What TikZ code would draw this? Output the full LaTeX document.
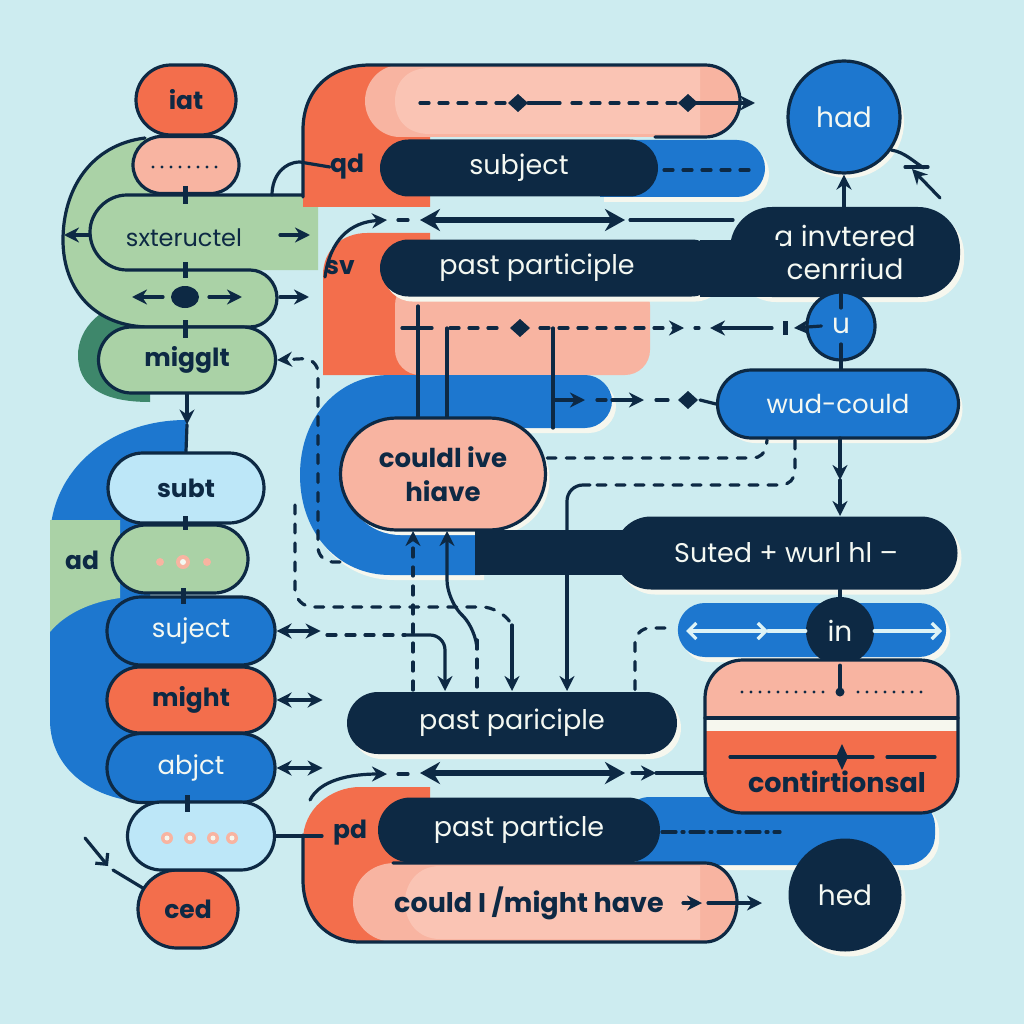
\documentclass[tikz,border=0pt]{standalone}
\usepackage{fontspec}
\setmainfont{Poppins}
\usetikzlibrary{arrows.meta,shapes.misc,shadows,positioning}
\definecolor{skyc}{HTML}{CDECF0}
\definecolor{inkc}{HTML}{0D2944}
\definecolor{coralc}{HTML}{F36E4C}
\definecolor{peachc}{HTML}{F8B4A1}
\definecolor{blushc}{HTML}{FAC4B4}
\definecolor{bluec}{HTML}{1D77CF}
\definecolor{icec}{HTML}{BDE7F8}
\definecolor{sagec}{HTML}{AAD2A6}
\definecolor{mossc}{HTML}{3E876B}
\definecolor{creamc}{HTML}{F6F7EE}
\definecolor{whitec}{HTML}{F4F8F2}
\definecolor{frostc}{HTML}{DDF3F6}
% small diamond on a connector
\newcommand\gem[2]{\fill[inkc] (#1,#2) +(-10,0) -- +(0,-9) -- +(10,0) -- +(0,9) -- cycle;}
\begin{document}
\begin{tikzpicture}[x=1pt,y=-1pt,>={Stealth[length=15pt,width=15pt]},line cap=round]
\tikzset{
  pill/.style={rounded rectangle,draw=inkc,line width=3.2pt,inner sep=0pt,
    font=\fontsize{25}{28}\selectfont\bfseries,text=inkc},
  wpill/.style={pill,font=\fontsize{26}{29}\selectfont,text=whitec},
  bar/.style={rounded rectangle,fill=inkc,inner sep=0pt,
    font=\fontsize{27}{30}\selectfont,text=whitec},
  disc/.style={circle,inner sep=0pt,font=\fontsize{28}{30}\selectfont,text=whitec},
  tag/.style={inner sep=0pt,font=\fontsize{25}{28}\selectfont\bfseries,text=inkc},
  wire/.style={draw=inkc,line width=3.2pt},
  dwire/.style={wire,dash pattern=on 9pt off 10pt},
  dots/.style={draw=inkc,line width=3.4pt,dash pattern=on 0pt off 9pt},
  tick/.style={draw=inkc,line width=5pt,line cap=butt},
  fat/.style={draw=inkc,line width=5.5pt,{Stealth[length=20pt,width=22pt]}-{Stealth[length=20pt,width=22pt]}},
  barb/.style={-{Straight Barb[length=8pt,width=16pt]}},
  shine/.style={drop shadow={shadow xshift=4pt,shadow yshift=-5pt,fill=creamc,opacity=1}}
}
\fill[skyc] (0,0) rectangle (1024,1024);
\useasboundingbox (0,0) rectangle (1024,1024);

% left column, green block
\fill[mossc] (150,300) .. controls (100,300) and (78,330) .. (78,355) .. controls (78,385) and (100,402) .. (150,402) -- cycle;
\fill[sagec] (145,138) .. controls (90,145) and (63,190) .. (63,240) .. controls (63,290) and (95,327) .. (150,327) -- (250,327) .. controls (265,327) and (277,313) .. (277,298) .. controls (277,283) and (265,270) .. (250,270) -- (318,270) -- (318,195) -- (186,195) -- (186,138) -- cycle;
\draw[wire] (145,138) .. controls (90,145) and (63,190) .. (63,240) .. controls (63,290) and (95,327) .. (150,327) -- (250,327) .. controls (265,327) and (277,313) .. (277,298) .. controls (277,283) and (265,270) .. (250,270) -- (127,270) .. controls (107,270) and (90,253) .. (90,232) .. controls (90,212) and (107,195) .. (127,195) -- (315,195);
\node[pill,fill=coralc,minimum width=100pt,minimum height=70pt] (iat) at (186,100) {iat};
\node[pill,fill=peachc,minimum width=106pt,minimum height=57pt] (dash1) at (186,165) {};
\draw[dots] (153,167) -- (222,167);
\node[inner sep=0pt,font=\fontsize{24}{28}\selectfont,text=inkc] (sxt) at (184,238) {sxteructel};
\draw[wire,->] (90,235) -- (64,235);
\draw[wire,->] (280,235) -- (310,235);
\fill[inkc] (185,297) ellipse (14 and 11);
\draw[wire,->] (163,297) -- (132,297);
\draw[wire,->] (209,297) -- (242,297);
\draw[wire,->] (280,297) -- (309,297);
\node[pill,fill=sagec,minimum width=177pt,minimum height=66pt] (migg) at (187,360) {migglt};
\draw[tick] (185,186) -- (185,204);
\draw[tick] (185,262) -- (185,278);
\draw[tick] (185,320) -- (185,338);

% left column, blue block
\fill[bluec] (186,420) .. controls (110,420) and (50,470) .. (50,540) -- (50,720) .. controls (50,770) and (95,802) .. (150,802) -- (150,460) -- (186,460) -- cycle;
\fill[sagec] (50,520) -- (120,520) -- (120,598) .. controls (90,602) and (65,614) .. (50,632) -- cycle;
\draw[wire,->] (migg.south) -- ++(0,30);
\node[pill,fill=icec,minimum width=156pt,minimum height=70pt] (subt) at (186,488) {subt};
\draw[wire] ([yshift=-30pt]migg.south) -- (subt.north);
\node[pill,fill=sagec,minimum width=136pt,minimum height=68pt] (adp) at (180,559) {};
\fill[peachc] (160,562) circle (4);
\fill[peachc] (183,562) circle (7);
\fill[whitec] (183,562) circle (3);
\fill[peachc] (207,562) circle (4);
\node[tag] (adl) at (82,560) {ad};
\node[wpill,fill=bluec,minimum width=168pt,minimum height=68pt] (suj) at (191,631) {suject};
\node[pill,fill=coralc,minimum width=168pt,minimum height=66pt] (might) at (191,700) {might};
\node[wpill,fill=bluec,minimum width=168pt,minimum height=69pt] (abj) at (191,768) {abjct};
\node[pill,fill=coralc,minimum width=100pt,minimum height=78pt] (ced) at (188,909) {ced};
\node[pill,fill=icec,minimum width=147pt,minimum height=68pt] (dots2) at (201,836) {};
\foreach \xx in {167,190,213,232} {\fill[peachc] (\xx,838) circle (6); \fill[creamc] (\xx,838) circle (2.5);}
\draw[tick] (185,516) -- (185,530);
\draw[tick] (183,588) -- (183,604);
\draw[tick] (187,795) -- (187,812);
\draw[wire,<->] (suj.east) -- ++(44,0);
\draw[wire,<->] (might.east) -- ++(46,0);
\draw[wire,<->] (abj.east) -- ++(46,0);
\draw[wire,barb] (85,838) -- (108,866);
\draw[wire] (113,870) -- (ced.155);

% top group
\fill[coralc] (303,207) -- (303,130) .. controls (303,90) and (330,65) .. (370,65) -- (430,65) -- (430,207) -- cycle;
\fill[peachc] (400,65) -- (705,65) .. controls (725,65) and (740,82) .. (740,101) .. controls (740,120) and (725,137) .. (705,137) -- (400,137) .. controls (380,137) and (365,120) .. (365,101) .. controls (365,82) and (380,65) .. (400,65);
\fill[blushc] (430,68) -- (700,68) -- (700,134) -- (430,134) .. controls (405,134) and (395,118) .. (395,101) .. controls (395,84) and (405,68) .. (430,68);
\draw[wire] (303,197) -- (303,130) .. controls (303,90) and (330,65) .. (370,65) -- (705,65) .. controls (725,65) and (740,82) .. (740,101) .. controls (740,120) and (725,137) .. (705,137) -- (655,137);
\fill[bluec,shine] (600,140) -- (737,140) .. controls (752,140) and (765,153) .. (765,168) .. controls (765,184) and (752,197) .. (737,197) -- (600,197) -- cycle;
\node[bar,minimum width=278pt,minimum height=57pt] (subj) at (519,168) {subject};
\node[tag] (qd) at (347,167) {qd};
\draw[dwire] (664,170) -- (758,170);
\draw[dwire] (420,103) -- (505,103);
\draw[wire] (528,103) -- (560,103);
\draw[dwire] (572,103) -- (680,103);
\draw[wire,->] (690,103) -- (755,103);
\gem{518}{103}
\gem{688}{103}
\draw[wire] (qd.west) -- (300,162) .. controls (284,162) and (272,176) .. (272,195);

% second group
\fill[coralc] (323,375) -- (323,275) .. controls (323,250) and (342,233) .. (367,233) -- (430,233) -- (430,375) -- cycle;
\fill[peachc,rounded corners=25pt] (395,280) rectangle (650,375);
\node[shine,fill=inkc,rounded corners=42pt,minimum width=230pt,minimum height=90pt,inner sep=0pt,align=center,text=whitec,font=\fontsize{28}{33}\selectfont] (inv) at (845,252) {a invtered\\cenrriud};
\node[bar,shine,minimum width=340pt,minimum height=57pt] (pp1) at (550,268) {};
\fill[inkc] (700,240) rectangle (780,297);
\node[inner sep=0pt,font=\fontsize{27}{30}\selectfont,text=whitec] (pp1t) at (537,268) {past participle};
\node[tag] (sv) at (340,268) {sv};
\draw[wire,->] (325,277) .. controls (330,240) and (350,222) .. (387,220);
\draw[wire] (398,220) -- (408,220);
\draw[fat] (420,220) -- (625,220);
\draw[wire] (630,220) -- (733,220);

% dashed row under past participle
\draw[wire] (418,306) -- (418,328);
\draw[wire] (402,328) -- (432,328);
\draw[dwire] (450,328) -- (505,328);
\gem{520}{328}
\draw[dwire,->] (540,328) -- (684,328);
\draw[wire] (695,328) -- (699,328);
\draw[wire,<-] (710,328) -- (772,328);
\draw[tick] (785,321) -- (785,335);

% blue middle block
\fill[bluec,shine] (390,375) -- (585,375) .. controls (600,375) and (612,388) .. (612,401) .. controls (612,415) and (600,428) .. (585,428) -- (480,428) -- (480,575) -- (390,575) .. controls (340,575) and (300,535) .. (300,475) .. controls (300,415) and (340,375) .. (390,375) -- cycle;
\draw[wire] (418,328) -- (418,420);
\draw[wire] (447,328) -- (447,420);
\draw[wire] (553,328) -- (553,428);
\draw[wire,->] (553,400) -- (585,400);
\draw[dwire] (597,400) -- (612,400);
\draw[wire,->] (612,400) -- (644,400);
\draw[wire] (656,400) -- (668,400);
\gem{688}{400}
\node[pill,shine,fill=peachc,minimum width=205pt,minimum height=112pt,align=center,font=\fontsize{26}{34}\selectfont\bfseries] (could) at (443,474) {couldl ive\\hiave};
\fill[inkc] (475,530) rectangle (660,575);
\node[bar,shine,minimum width=343pt,minimum height=73pt] (sut) at (786,553) {Suted + wurl hl –};

% right column
\node[disc,shine,draw=inkc,line width=3.2pt,fill=bluec,minimum size=112pt] (had) at (844,117) {had};
\node[disc,draw=inkc,line width=3.2pt,fill=bluec,minimum size=68pt] (u) at (841,326) {u};
\node[wpill,shine,fill=bluec,minimum width=241pt,minimum height=68pt] (wud) at (838,404) {wud-could};
\draw[wire] (700,400) -- (wud.west);
\draw[wire,->] (inv.north -| had.south) -- (had.south);
\draw[wire] (had.-35) .. controls (905,152) and (915,163) .. (924,168);
\draw[wire] (905,167) -- (928,167);
\draw[wire,->] (940,198) -- (912,169);
\draw[wire] (841,294) -- (841,308);
\draw[wire] (841,344) -- (wud.north -| u.south);
\draw[wire,->] ([xshift=16pt]u.west) -- (794,328);
\draw[wire,->] (840,438) -- (840,480);
\draw[wire,->] (840,480) -- (840,516);
\draw[dwire,rounded corners=12pt] (could.east |- 0,458) -- (765,458) -- (767,440);
\draw[dwire,rounded corners=14pt] (795,440) -- (795,485) -- (590,485);
\draw[wire,rounded corners=16pt] (590,485) -- (567,485) -- (567,530);

\node[rounded rectangle,shine,fill=bluec,minimum width=275pt,minimum height=54pt] (inrow) at (812,630) {};
\node[disc,fill=inkc,minimum size=68pt] (in) at (840,631) {in};
\draw[wire] (sut.south -| in.north) -- (in.north);
\draw[frostc,line width=3.2pt,{Straight Barb[length=8pt,width=16pt]}-{Straight Barb[length=8pt,width=16pt]}] (686,631) -- (768,631);
\draw[frostc,line width=3.2pt] (768,631) -- (in.west);
\draw[frostc,line width=3.2pt,barb] (in.east) -- (942,631);

% bottom right
\fill[bluec,shine,rounded corners=30pt] (620,797) rectangle (935,865);
\begin{scope}
\clip[rounded corners=38pt] (705,660) rectangle (958,813);
\fill[peachc] (705,660) rectangle (958,718);
\fill[creamc] (705,718) rectangle (958,731);
\fill[coralc] (705,731) rectangle (958,813);
\end{scope}
\node[draw=inkc,line width=3.2pt,rounded corners=38pt,minimum width=253pt,minimum height=153pt,inner sep=0pt] (cond) at (831.5,736.5) {};
\draw[wire] (705,718) -- (958,718);
\draw[dots] (742,692) -- (826,692);
\draw[dots] (858,692) -- (922,692);
\draw[wire] (in.south) -- (840,692);
\fill[inkc] (840,692) circle (4.5);
\draw[wire] (730,757) -- (873,757);
\fill[inkc] (842,744) -- (848,757) -- (842,770) -- (836,757) -- cycle;
\draw[wire] (887,757) -- (935,757);
\node[tag,font=\fontsize{27}{29}\selectfont\bfseries] (condt) at (837,782) {contirtionsal};
\node[disc,shine,fill=inkc,minimum size=113pt] (hed) at (845,895) {hed};

% bottom group
\fill[coralc] (360,787) -- (430,787) -- (430,942) -- (360,942) .. controls (325,942) and (303,915) .. (303,880) -- (303,840) .. controls (303,810) and (330,787) .. (360,787) -- cycle;
\fill[peachc] (395,863) -- (705,863) .. controls (723,863) and (737,881) .. (737,902) .. controls (737,924) and (723,942) .. (705,942) -- (395,942) .. controls (370,942) and (353,924) .. (353,902) .. controls (353,881) and (370,863) .. (395,863);
\fill[blushc] (440,866) -- (700,866) -- (700,939) -- (440,939) .. controls (418,939) and (405,922) .. (405,902) .. controls (405,883) and (418,866) .. (440,866);
\draw[wire] (393,863) -- (705,863) .. controls (723,863) and (737,881) .. (737,902) .. controls (737,924) and (723,942) .. (705,942) -- (360,942) .. controls (325,942) and (303,915) .. (303,880) -- (303,835);
\node[bar,minimum width=282pt,minimum height=65pt] (ppb) at (519,830) {past particle};
\node[tag] (pd) at (350,833) {pd};
\draw[wire] (dots2.east) -- (322,836);
\draw[inkc,line width=3.2pt,dash pattern=on 14pt off 6pt on 2pt off 6pt] (662,832) -- (780,832);
\node[tag,font=\fontsize{27}{29}\selectfont\bfseries] (cmh) at (529,903) {could I /might have};
\draw[wire,->] (683,903) -- (702,903);
\draw[wire,->] (708,903) -- (762,903);

\node[bar,shine,minimum width=330pt,minimum height=62pt] (ppa) at (512,723) {past pariciple};
\draw[wire,->] (310,800) .. controls (320,780) and (350,774) .. (387,774);
\draw[wire] (398,774) -- (408,774);
\draw[fat] (420,773) -- (625,773);
\draw[wire,->] (632,773) -- (656,773);
\draw[wire] (656,773) -- (705,773);

% connectors crossing the middle
\draw[dwire,->,rounded corners=15pt] (340,562) -- (318,562) -- (318,358) -- (migg.east);
\draw[dwire,rounded corners=18pt] (295,505) -- (295,607) -- (500,607) -- (512,625);
\draw[wire,->] (512,625) -- (512,691);
\draw[dwire] (327,635) -- (405,635);
\draw[wire,->,rounded corners=15pt] (405,635) -- (445,635) -- (445,691);
\draw[dwire,->] (413,690) -- (413,531);
\draw[wire,<-,rounded corners=20pt] (447,531) -- (447,600) -- (477,630) -- (477,640);
\draw[dwire] (477,640) -- (477,690);
\draw[wire,->] (567,575) -- (567,691);
\draw[dwire,rounded corners=15pt] (665,628) -- (635,628) -- (635,690);
\end{tikzpicture}
\end{document}
